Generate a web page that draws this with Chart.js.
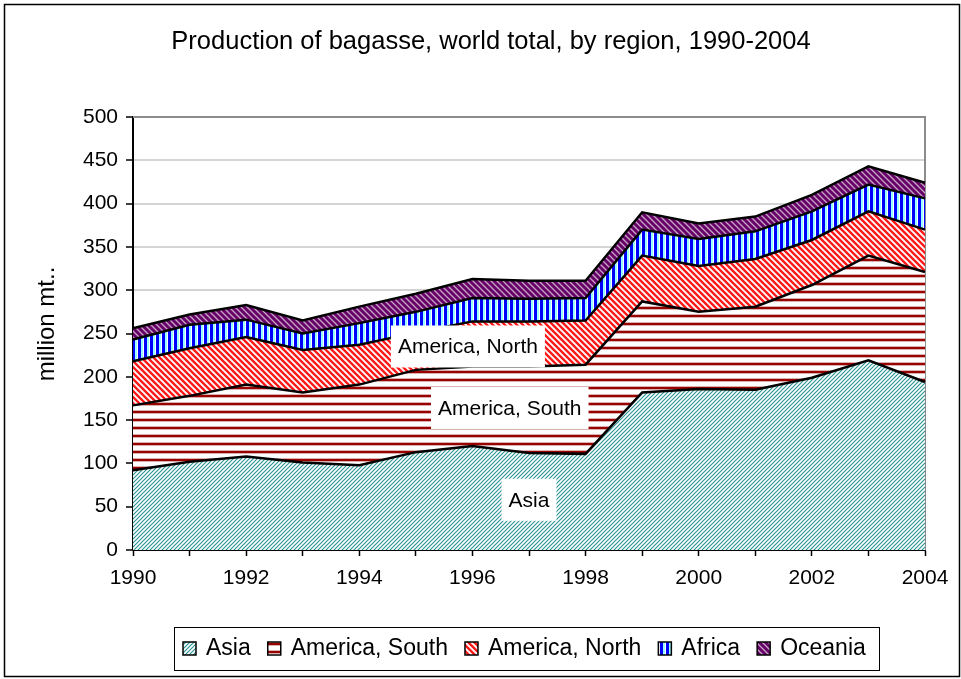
<!DOCTYPE html>
<html>
<head>
<meta charset="utf-8">
<script src="https://cdn.jsdelivr.net/npm/chart.js@4.4.1/dist/chart.umd.min.js"></script>
<style>
  body { margin: 0; background: #fff; }
  canvas { display: block; }
</style>
</head>
<body>
<canvas id="areaChart" width="961" height="679"></canvas>
<script>
const years = ['1990', '1991', '1992', '1993', '1994', '1995', '1996', '1997',
  '1998', '1999', '2000', '2001', '2002', '2003', '2004'];

// million mt
const asia = [92, 102, 108, 101, 98, 113, 120, 112, 111, 182, 186, 185, 199, 219, 194];
const americaSouth = [75, 76, 83, 81, 93, 95, 92, 100, 103, 105, 89, 96, 107, 121, 127];
const americaNorth = [51, 55, 55, 49, 46, 43, 52, 52, 51, 53, 53, 55, 52, 51, 49];
const africa = [25, 27, 20, 19, 25, 24, 27, 26, 26, 30, 31, 32, 33, 31, 36];
const oceania = [13, 12, 17, 15, 19, 21, 22, 21, 20, 20, 18, 17, 19, 21, 18];

const seriesNames = ['Asia', 'America, South', 'America, North', 'Africa', 'Oceania'];
const yTicks = [0, 50, 100, 150, 200, 250, 300, 350, 400, 450, 500];

const FONT = '"Liberation Sans", Arial, sans-serif';

const ctx = document.getElementById('areaChart').getContext('2d');

function makePattern(size, draw) {
  const c = document.createElement('canvas');
  c.width = size;
  c.height = size;
  const g = c.getContext('2d');
  draw(g, size);
  return ctx.createPattern(c, 'repeat');
}

function diag(g, s, color, width, back) {
  g.fillStyle = '#fff';
  g.fillRect(0, 0, s, s);
  g.strokeStyle = color;
  g.lineWidth = width;
  g.beginPath();
  if (back) {
    g.moveTo(0, 0); g.lineTo(s, s);
    g.moveTo(-1, s - 1); g.lineTo(1, s + 1);
    g.moveTo(s - 1, -1); g.lineTo(s + 1, 1);
  } else {
    g.moveTo(0, s); g.lineTo(s, 0);
    g.moveTo(-1, 1); g.lineTo(1, -1);
    g.moveTo(s - 1, s + 1); g.lineTo(s + 1, s - 1);
  }
  g.stroke();
}

const asiaFill = makePattern(4, (g, s) => diag(g, s, '#2f9696', 1.2, false));
const southFill = makePattern(8, (g, s) => {
  g.fillStyle = '#fff';
  g.fillRect(0, 0, s, s);
  g.fillStyle = '#ddb0b0';
  g.fillRect(0, 2, s, 4);
  g.fillStyle = '#990000';
  g.fillRect(0, 3, s, 2);
});
const northFill = makePattern(6, (g, s) => diag(g, s, '#ff1a1a', 2.4, true));
const africaFill = makePattern(6, (g, s) => {
  g.fillStyle = '#fff';
  g.fillRect(0, 0, s, s);
  g.fillStyle = '#0000ff';
  g.fillRect(0, 0, 3, s);
  g.fillStyle = '#99ffff';
  g.fillRect(3, 0, 2, s);
});
const oceaniaFill = makePattern(6, (g, s) => {
  g.fillStyle = '#660066';
  g.fillRect(0, 0, s, s);
  g.strokeStyle = '#c8a6c8';
  g.lineWidth = 1.3;
  g.beginPath();
  g.moveTo(0, 0); g.lineTo(s, s);
  g.moveTo(-1, s - 1); g.lineTo(1, s + 1);
  g.moveTo(s - 1, -1); g.lineTo(s + 1, 1);
  g.stroke();
});

const fills = [asiaFill, southFill, northFill, africaFill, oceaniaFill];
const values = [asia, americaSouth, americaNorth, africa, oceania];

const datasets = seriesNames.map((name, i) => ({
  label: name,
  data: values[i],
  backgroundColor: fills[i],
  borderColor: '#000',
  borderWidth: 2.5,
  pointRadius: 0,
  tension: 0,
  fill: i === 0 ? 'origin' : '-1'
}));

// text boxes inside the areas, placed in data units
const areaLabels = [
  { text: 'America, North', x: 5.92, y: 235 },
  { text: 'America, South', x: 6.66, y: 164 },
  { text: 'Asia', x: 7.0, y: 58 }
];

const decorations = {
  id: 'decorations',
  beforeDatasetsDraw(chart) {
    const a = chart.chartArea;
    const c = chart.ctx;
    c.save();
    c.strokeStyle = '#8c8c8c';
    c.lineWidth = 2;
    c.beginPath();
    c.moveTo(a.left, a.top);
    c.lineTo(a.right, a.top);
    c.lineTo(a.right, a.bottom);
    c.stroke();
    c.restore();
  },
  afterDatasetsDraw(chart) {
    const c = chart.ctx;
    const xs = chart.scales.x, ys = chart.scales.y;
    c.save();
    c.font = '21px ' + FONT;
    c.textAlign = 'center';
    c.textBaseline = 'middle';
    areaLabels.forEach(l => {
      const px = xs.getPixelForValue(l.x);
      const py = ys.getPixelForValue(l.y);
      const w = c.measureText(l.text).width + 14;
      const h = 42;
      c.fillStyle = '#fff';
      c.fillRect(px - w / 2, py - h / 2, w, h);
      c.fillStyle = '#000';
      c.fillText(l.text, px, py + 1);
    });
    c.restore();
  },
  afterDraw(chart) {
    const c = chart.ctx;
    c.save();
    // outer frame
    c.strokeStyle = '#000';
    c.lineWidth = 1.5;
    c.strokeRect(4.5, 4.5, 955, 672);

    // title
    c.fillStyle = '#000';
    c.font = '25.5px ' + FONT;
    c.textAlign = 'center';
    c.textBaseline = 'middle';
    c.fillText('Production of bagasse, world total, by region, 1990-2004', 491, 42);

    // y axis title
    c.save();
    c.translate(47, 324);
    c.rotate(-Math.PI / 2);
    c.font = '24px ' + FONT;
    c.fillText('million mt..', 0, 0);
    c.restore();

    // legend
    c.lineWidth = 1;
    c.strokeStyle = '#000';
    c.strokeRect(174.5, 627.5, 705, 43);
    c.font = '23px ' + FONT;
    c.textAlign = 'left';
    let x = 183;
    const cy = 649;
    seriesNames.forEach((name, i) => {
      c.fillStyle = fills[i];
      c.fillRect(x, cy - 7, 13, 13);
      c.lineWidth = 1.5;
      c.strokeRect(x, cy - 7, 13, 13);
      c.fillStyle = '#000';
      c.fillText(name, x + 23, cy);
      x += 23 + c.measureText(name).width + 17;
    });
    c.restore();
  }
};

const config = {
  type: 'line',
  data: { labels: years, datasets: datasets },
  options: {
    responsive: false,
    animation: false,
    layout: { padding: { top: 117, right: 36, bottom: 0, left: 0 } },
    plugins: {
      legend: { display: false },
      title: { display: false },
      tooltip: { enabled: false }
    },
    scales: {
      x: {
        grid: { drawOnChartArea: false, tickColor: '#000', tickLength: 6, tickWidth: 1.5 },
        border: { color: '#000', width: 2 },
        ticks: {
          autoSkip: false,
          maxRotation: 0,
          padding: 10,
          color: '#000',
          font: { size: 21, family: FONT },
          callback: (v, i) => (i % 2 === 0 ? years[i] : '')
        },
        afterFit: s => { s.height = 129; }
      },
      y: {
        stacked: true,
        min: 0,
        max: 500,
        afterBuildTicks: s => { s.ticks = yTicks.map(v => ({ value: v })); },
        grid: { color: '#d4d4d4', lineWidth: 2, tickColor: '#000', tickLength: 7, tickWidth: 1.5 },
        border: { color: '#000', width: 2 },
        ticks: {
          padding: 8,
          color: '#000',
          font: { size: 21, family: FONT }
        },
        afterFit: s => { s.width = 133; }
      }
    }
  },
  plugins: [decorations]
};

const areaChart = new Chart(ctx, config);
</script>
</body>
</html>
